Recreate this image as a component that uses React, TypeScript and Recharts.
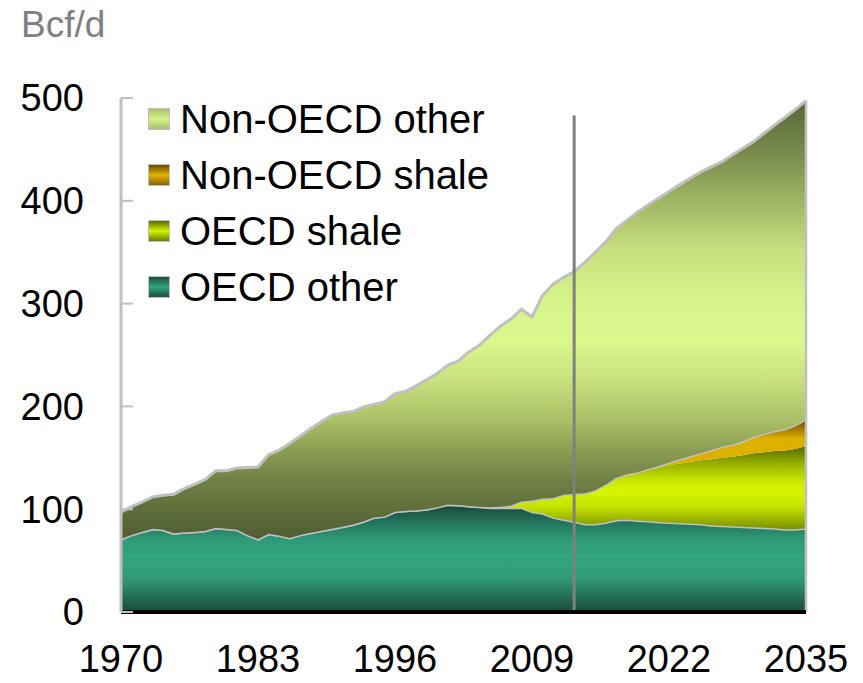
import { AreaChart, Area, XAxis, YAxis, ReferenceLine } from 'recharts';

const years = [
  1970, 1971, 1972, 1973, 1974, 1975, 1976, 1977, 1978, 1979,
  1980, 1981, 1982, 1983, 1984, 1985, 1986, 1987, 1988, 1989,
  1990, 1991, 1992, 1993, 1994, 1995, 1996, 1997, 1998, 1999,
  2000, 2001, 2002, 2003, 2004, 2005, 2006, 2007, 2008, 2009,
  2010, 2011, 2012, 2013, 2014, 2015, 2016, 2017, 2018, 2019,
  2020, 2021, 2022, 2023, 2024, 2025, 2026, 2027, 2028, 2029,
  2030, 2031, 2032, 2033, 2034, 2035,
];

// Bcf/d
const oecdOther = [
  71, 75, 78, 81, 80, 76.5, 77.5, 78, 79, 82,
  81, 80, 75, 71, 76, 74.5, 72, 75, 77, 79,
  81, 83, 85, 88, 92, 93, 97.5, 98.5, 99, 100,
  102, 104.5, 104, 103, 102.5, 101.5, 101.5, 101.5, 101.5, 97.5,
  96, 92, 90, 88, 85.5, 85.5, 87, 89.5, 90, 89,
  88.5, 87.5, 87, 86.5, 86, 85.5, 84.5, 84, 83.5, 83,
  82.5, 82, 81.5, 80.5, 80.5, 81.5,
];
const oecdShale = [
  0, 0, 0, 0, 0, 0, 0, 0, 0, 0,
  0, 0, 0, 0, 0, 0, 0, 0, 0, 0,
  0, 0, 0, 0, 0, 0, 0, 0, 0, 0,
  0, 0, 0, 0, 0, 0.5, 1, 2, 6, 11,
  14.5, 19, 24, 27, 30, 33, 37, 41, 44, 47,
  50, 53, 56, 58, 60, 62, 64, 66, 67.5, 69.5,
  72, 73.5, 75, 76.5, 78, 80,
];
const nonOecdShale = [
  0, 0, 0, 0, 0, 0, 0, 0, 0, 0,
  0, 0, 0, 0, 0, 0, 0, 0, 0, 0,
  0, 0, 0, 0, 0, 0, 0, 0, 0, 0,
  0, 0, 0, 0, 0, 0, 0, 0, 0, 0,
  0, 0, 0, 0, 0, 0, 0, 0, 0, 0,
  0.5, 1.5, 2.5, 4, 5.5, 7, 9, 10.8, 12, 13.6,
  16, 18, 19.5, 21, 23.5, 26,
];
const nonOecdOther = [
  26, 27.5, 29, 31, 33.5, 38, 42.5, 46.5, 50, 55.5,
  56.5, 60, 65.5, 70, 77, 83, 92, 96, 101.5, 106,
  110.5, 110.5, 110, 111.5, 110, 111.5, 115, 116, 121, 126,
  130, 135.5, 140, 150, 157, 167, 175.5, 181.5, 187, 178.5,
  197.5, 208, 211.5, 216, 224.5, 231.5, 236, 242.5, 247, 253,
  257, 260.5, 263.5, 267, 270.5, 273.5, 275.5, 277, 281.5, 285,
  287, 292, 297.5, 303, 307, 310,
];

const xTicks = [1970, 1983, 1996, 2009, 2022, 2035];
const yTicks = [0, 100, 200, 300, 400, 500];
const projectionStart = 2013;

const data = years.map((year, i) => ({
  year,
  oecdOther: oecdOther[i],
  oecdShale: oecdShale[i],
  nonOecdShale: nonOecdShale[i],
  nonOecdOther: nonOecdOther[i],
}));

const last = data.length - 1;
const lastTotal = oecdOther[last] + oecdShale[last] + nonOecdShale[last] + nonOecdOther[last];

const FONT = '"Liberation Sans", Arial, sans-serif';
const EDGE = '#c0c0c0';

const legendItems = [
  { name: 'Non-OECD other', swatch: 'linear-gradient(#a9c16a, #d6f38a 50%, #a9c16a)' },
  { name: 'Non-OECD shale', swatch: 'linear-gradient(#6b4a00, #e0b400 50%, #8a6400)' },
  { name: 'OECD shale', swatch: 'linear-gradient(#5a6a00, #d4f500 50%, #6a7c00)' },
  { name: 'OECD other', swatch: 'linear-gradient(#1b5040, #33a47f 50%, #1b5040)' },
];

export default function App() {
  return (
    <div style={{ position: 'absolute', left: 0, top: 0, width: 863, height: 683, background: '#fff', fontFamily: FONT }}>
      <div style={{ position: 'absolute', left: 21, top: 6, fontSize: 37, lineHeight: '37px', color: '#808080' }}>Bcf/d</div>
      <AreaChart width={863} height={683} data={data} margin={{ top: 98, right: 57, bottom: 0, left: 0 }}>
        <defs>
          <linearGradient id="gNonOther" x1="0" y1="0" x2="0" y2="1">
            <stop offset="0" stopColor="#56663a" />
            <stop offset="0.11" stopColor="#76884a" />
            <stop offset="0.23" stopColor="#a0b565" />
            <stop offset="0.34" stopColor="#c7df7e" />
            <stop offset="0.45" stopColor="#d6f38a" />
            <stop offset="0.55" stopColor="#daf88c" />
            <stop offset="0.64" stopColor="#c8e07e" />
            <stop offset="0.73" stopColor="#aabf66" />
            <stop offset="0.8" stopColor="#8a9c52" />
            <stop offset="0.87" stopColor="#6f7f44" />
            <stop offset="1" stopColor="#4f5d32" />
          </linearGradient>
          <linearGradient id="gNonShale" x1="0" y1="0" x2="0" y2="1">
            <stop offset="0" stopColor="#6a4a00" />
            <stop offset="0.08" stopColor="#a57800" />
            <stop offset="0.16" stopColor="#ddb000" />
            <stop offset="1" stopColor="#ddb000" />
          </linearGradient>
          <linearGradient id="gOecdShale" x1="0" y1="0" x2="0" y2="1">
            <stop offset="0" stopColor="#566600" />
            <stop offset="0.18" stopColor="#94ad00" />
            <stop offset="0.37" stopColor="#c8e600" />
            <stop offset="0.48" stopColor="#d6f700" />
            <stop offset="0.66" stopColor="#c4e200" />
            <stop offset="0.8" stopColor="#98b000" />
            <stop offset="0.9" stopColor="#7a8f00" />
            <stop offset="1" stopColor="#667800" />
          </linearGradient>
          <linearGradient id="gOecdOther" x1="0" y1="0" x2="0" y2="1">
            <stop offset="0" stopColor="#174536" />
            <stop offset="0.15" stopColor="#22715a" />
            <stop offset="0.33" stopColor="#2f9b78" />
            <stop offset="0.5" stopColor="#33a580" />
            <stop offset="0.7" stopColor="#2f9877" />
            <stop offset="0.88" stopColor="#22684f" />
            <stop offset="1" stopColor="#1a4a39" />
          </linearGradient>
        </defs>
        <XAxis
          dataKey="year"
          type="number"
          domain={[1970, 2035]}
          ticks={xTicks}
          height={71}
          tickLine={false}
          tickSize={0}
          tickMargin={33}
          axisLine={{ stroke: '#000', strokeWidth: 4 }}
          tick={{ fill: '#000', fontSize: 38, fontFamily: FONT }}
        />
        <YAxis
          type="number"
          domain={[0, 500]}
          ticks={yTicks}
          width={121}
          tickSize={-12}
          tickMargin={49}
          tickLine={{ stroke: EDGE, strokeWidth: 2 }}
          axisLine={{ stroke: EDGE, strokeWidth: 3 }}
          tick={{ fill: '#000', fontSize: 38, fontFamily: FONT }}
        />
        <Area type="linear" dataKey="oecdOther" stackId="a" fill="url(#gOecdOther)" fillOpacity={1} stroke={EDGE} strokeWidth={3} isAnimationActive={false} />
        <Area type="linear" dataKey="oecdShale" stackId="a" fill="url(#gOecdShale)" fillOpacity={1} stroke="none" isAnimationActive={false} />
        <Area type="linear" dataKey="nonOecdShale" stackId="a" fill="url(#gNonShale)" fillOpacity={1} stroke={EDGE} strokeWidth={3} isAnimationActive={false} />
        <Area type="linear" dataKey="nonOecdOther" stackId="a" fill="url(#gNonOther)" fillOpacity={1} stroke={EDGE} strokeWidth={3} isAnimationActive={false} />
        <ReferenceLine segment={[{ x: 2035, y: 0 }, { x: 2035, y: lastTotal }]} stroke={EDGE} strokeWidth={2.5} />
        <ReferenceLine segment={[{ x: projectionStart, y: 0 }, { x: projectionStart, y: 483 }]} stroke="#808080" strokeWidth={3} />
      </AreaChart>
      <div style={{ position: 'absolute', left: 148, top: 91 }}>
        {legendItems.map((item) => (
          <div key={item.name} style={{ display: 'flex', alignItems: 'center', height: 56 }}>
            <span style={{ width: 20, height: 20, background: item.swatch, border: '1px solid #bfbfbf', marginRight: 10, flex: 'none' }} />
            <span style={{ fontSize: 40, color: '#000', whiteSpace: 'nowrap' }}>{item.name}</span>
          </div>
        ))}
      </div>
    </div>
  );
}
